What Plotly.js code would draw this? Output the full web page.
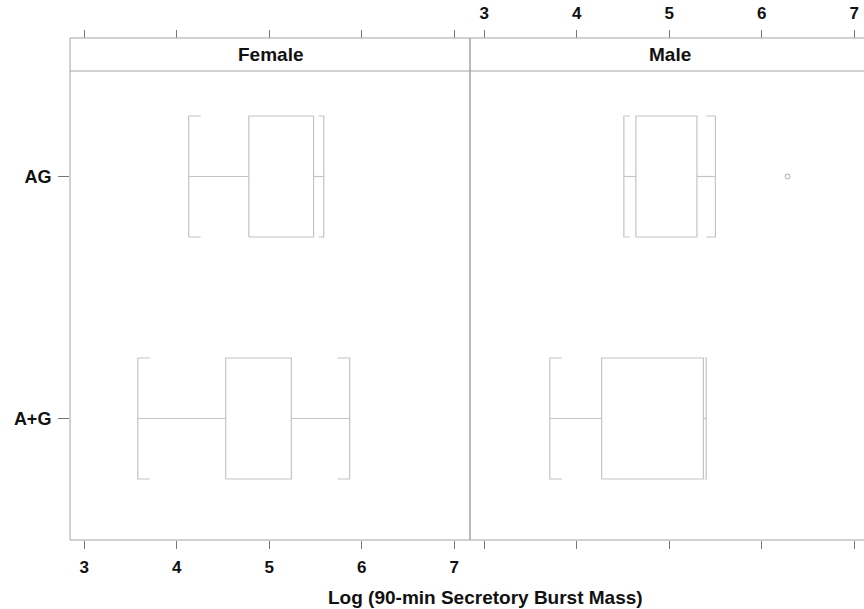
<!DOCTYPE html>
<html>
<head>
<meta charset="utf-8">
<script src="https://cdn.plot.ly/plotly-3.0.1.min.js"></script>
<style>html,body{margin:0;padding:0;background:#fff;}#chart{width:864px;height:609px;}</style>
</head>
<body>
<div id="chart"></div>
<script>
// ---- data ----
const panels = ["Female", "Male"];
const groups = ["A+G", "AG"];              // bottom to top
const lowerWhisker = { Female: [3.58, 4.13], Male: [3.71, 4.51] };
const q1           = { Female: [4.53, 4.78], Male: [4.27, 4.64] };
const q3           = { Female: [5.24, 5.48], Male: [5.37, 5.30] };
const upperWhisker = { Female: [5.87, 5.59], Male: [5.40, 5.50] };
const outlierX     = { Female: [], Male: [6.28] };
const outlierGroup = { Female: [], Male: ["AG"] };
const xTicks = [3, 4, 5, 6, 7];
const xTitle = "Log (90-min Secretory Burst Mass)";

// ---- layout geometry ----
const ML = 70, MT = 38, MB = 69, W = 864, H = 609;
const PW = W - ML, PH = H - MT - MB;
const split = 400 / PW;                  // panel boundary
const stripBottom = (540 - 71) / PH;
const leftRange = [2.847, 7.171];
const rightRange = [2.847, 7.106];
const yRange = [-0.502, 1.436];
const halfH = 0.25;
const boxColor = "#c4c4c4";
const borderColor = "#a4a4a4";
const tickColor = "#777";
const fontFam = "Liberation Sans, Arial, Helvetica, sans-serif";

function boxPath(p) {
  const xs = [], ys = [];
  groups.forEach((g, i) => {
    const lo = lowerWhisker[p][i], a = q1[p][i], b = q3[p][i], hi = upperWhisker[p][i];
    const y0 = i - halfH, y1 = i + halfH;
    const sL = Math.min(0.13, 0.5 * (a - lo));
    const sR = Math.min(0.13, 0.5 * (hi - b));
    xs.push(a, b, b, a, a, null); ys.push(y0, y0, y1, y1, y0, null);
    xs.push(lo, a, null, b, hi, null); ys.push(i, i, null, i, i, null);
    xs.push(lo + sL, lo, lo, lo + sL, null); ys.push(y0, y0, y1, y1, null);
    xs.push(hi - sR, hi, hi, hi - sR, null); ys.push(y0, y0, y1, y1, null);
  });
  return { xs, ys };
}

const traces = [];
panels.forEach((p, k) => {
  const xa = k === 0 ? "x" : "x2";
  const bp = boxPath(p);
  traces.push({ type: "scatter", mode: "lines", x: bp.xs, y: bp.ys, xaxis: xa, yaxis: "y",
    line: { color: boxColor, width: 1.2 }, hoverinfo: "skip", showlegend: false, connectgaps: false });
  traces.push({ type: "scatter", mode: "markers", x: outlierX[p],
    y: outlierGroup[p].map(g => groups.indexOf(g)), xaxis: xa, yaxis: "y",
    marker: { symbol: "circle-open", size: 5, color: "#aaaaaa", line: { width: 1 } }, showlegend: false });
});
// carrier traces for the top axes
traces.push({ type: "scatter", mode: "markers", x: [null], y: [null], xaxis: "x3", yaxis: "y", showlegend: false });
traces.push({ type: "scatter", mode: "markers", x: [null], y: [null], xaxis: "x4", yaxis: "y", showlegend: false });

const tickFont = { family: fontFam, size: 17, color: "#111", weight: "bold" };
const baseX = {
  tickmode: "array", tickvals: xTicks, ticktext: xTicks.map(String),
  ticks: "outside", ticklen: 8, tickwidth: 1, tickcolor: tickColor,
  showgrid: false, zeroline: false, showline: false, fixedrange: true,
  tickfont: tickFont, ticklabelstandoff: 4
};

const layout = {
  width: W, height: H,
  margin: { l: ML, r: 0, t: MT, b: MB, pad: 0 },
  paper_bgcolor: "#fff", plot_bgcolor: "#fff",
  showlegend: false,
  xaxis: Object.assign({}, baseX, { domain: [0, split], range: leftRange, anchor: "y", side: "bottom" }),
  xaxis2: Object.assign({}, baseX, { domain: [split, 1], range: rightRange, anchor: "y", side: "bottom", showticklabels: false }),
  xaxis3: Object.assign({}, baseX, { range: leftRange, overlaying: "x", side: "top", anchor: "free", position: 1, showticklabels: false }),
  xaxis4: Object.assign({}, baseX, { range: rightRange, overlaying: "x2", side: "top", anchor: "free", position: 1 }),
  yaxis: {
    domain: [0, stripBottom], range: yRange, anchor: "x",
    tickmode: "array", tickvals: groups.map((g, i) => i), ticktext: groups,
    ticks: "outside", ticklen: 11, tickwidth: 1, tickcolor: tickColor,
    showgrid: false, zeroline: false, showline: false, fixedrange: true,
    tickfont: { family: fontFam, size: 18, color: "#111", weight: "bold" }, ticklabelstandoff: 3
  },
  shapes: [
    { type: "rect", xref: "paper", yref: "paper", x0: 0, x1: split, y0: 0, y1: 1, line: { color: borderColor, width: 1 } },
    { type: "rect", xref: "paper", yref: "paper", x0: split, x1: 800 / PW, y0: 0, y1: 1, line: { color: borderColor, width: 1 } },
    { type: "line", xref: "paper", yref: "paper", x0: 0, x1: 800 / PW, y0: stripBottom, y1: stripBottom, line: { color: borderColor, width: 1 } }
  ],
  annotations: panels.map((p, k) => ({
    xref: "paper", yref: "paper", x: k === 0 ? split / 2 : (split + 800 / PW) / 2, y: (stripBottom + 1) / 2,
    text: p, showarrow: false, xanchor: "center", yanchor: "middle",
    font: { family: fontFam, size: 19, color: "#111", weight: "bold" }
  })).concat([{
    xref: "paper", yref: "paper", x: (485 - ML) / PW, y: -(585 - 540) / PH,
    text: xTitle, showarrow: false, xanchor: "center", yanchor: "top",
    font: { family: fontFam, size: 19, color: "#111", weight: "bold" }
  }])
};

Plotly.newPlot("chart", traces, layout, { displayModeBar: false, staticPlot: true });
</script>
</body>
</html>
